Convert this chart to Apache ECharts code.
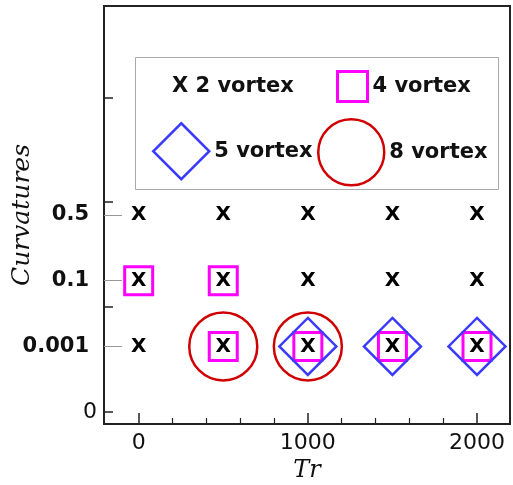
<!DOCTYPE html>
<html>
<head>
<meta charset="utf-8">
<script src="https://cdn.jsdelivr.net/npm/echarts@6/dist/echarts.min.js"></script>
<style>html,body{margin:0;padding:0;background:#fff}#c{width:513px;height:485px}</style>
</head>
<body>
<div id="c"></div>
<script>
// Curvature categories (plotted at index positions 0..3)
var curvLabels = ['0', '0.001', '0.1', '0.5'];
var trTicks = [0, 1000, 2000];
var trMinor = [200, 400, 600, 800, 1200, 1400, 1600, 1800];
var yPlainTicks = [0, 1.6, 3.2, 4.78];

// [Tr, curvature label]
var vortex2 = [[0,'0.5'],[500,'0.5'],[1000,'0.5'],[1500,'0.5'],[2000,'0.5'],
               [0,'0.1'],[500,'0.1'],[1000,'0.1'],[1500,'0.1'],[2000,'0.1'],
               [0,'0.001'],[500,'0.001'],[1000,'0.001'],[1500,'0.001'],[2000,'0.001']];
var vortex4 = [[0,'0.1'],[500,'0.1'],[500,'0.001'],[1000,'0.001'],[1500,'0.001'],[2000,'0.001']];
var vortex5 = [[1000,'0.001'],[1500,'0.001'],[2000,'0.001']];
var vortex8 = [[500,'0.001'],[1000,'0.001']];

function toXY(arr){ return arr.map(function(p){ return [p[0], curvLabels.indexOf(p[1])]; }); }

var chart = echarts.init(document.getElementById('c'));
var sansB = 'DejaVu Sans';
var legText = {fontFamily: sansB, fontWeight: 'bold', fontSize: 21, color: '#111'};
var option = {
  animation: false,
  grid: {left: 104, right: 3, top: 6, bottom: 61, show: true, borderColor: '#222', borderWidth: 2,
         backgroundColor: 'transparent', containLabel: false, outerBoundsMode: 'none'},
  xAxis: [{
    type: 'value', min: -205, max: 2195,
    name: 'Tr', nameLocation: 'middle', nameGap: 32,
    nameTextStyle: {fontFamily: 'DejaVu Serif', fontStyle: 'italic', fontSize: 24, color: '#111'},
    axisLine: {show: true, onZero: false, lineStyle: {color: '#222', width: 2}},
    axisTick: {show: true, inside: true, length: 11, customValues: trTicks, lineStyle: {color: '#222', width: 1.5}},
    axisLabel: {customValues: trTicks, fontFamily: sansB, fontSize: 22, color: '#111', margin: 8,
      formatter: function(v){ return String(v); }},
    splitLine: {show: false}
  }, {
    type: 'value', min: -205, max: 2195, position: 'bottom',
    axisLine: {show: false, onZero: false},
    axisTick: {show: true, inside: true, length: 6, customValues: trMinor, lineStyle: {color: '#222', width: 1.2}},
    axisLabel: {show: false},
    splitLine: {show: false}
  }],
  yAxis: [{
    type: 'value', min: -0.18, max: 6.18,
    name: 'Curvatures', nameLocation: 'middle', nameGap: 69,
    nameTextStyle: {fontFamily: 'DejaVu Serif', fontStyle: 'italic', fontSize: 25, color: '#111'},
    axisLine: {show: true, onZero: false, lineStyle: {color: '#222', width: 2}},
    axisTick: {show: true, inside: true, length: 9, customValues: yPlainTicks, lineStyle: {color: '#222', width: 1.5}},
    axisLabel: {customValues: [0], fontFamily: sansB, fontSize: 22, color: '#111', margin: 7},
    splitLine: {show: false}
  }, {
    type: 'value', min: -0.18, max: 6.18, position: 'left',
    axisLine: {show: false, onZero: false},
    axisTick: {show: true, inside: true, length: 18, customValues: [1, 2, 3], lineStyle: {color: '#999', width: 1}},
    axisLabel: {customValues: [1, 2, 3], fontFamily: sansB, fontWeight: 'bold', fontSize: 21, color: '#111', margin: 15,
      formatter: function(v){ return curvLabels[Math.round(v)]; }},
    splitLine: {show: false}
  }],
  graphic: [{
    type: 'rect', left: 135, top: 57, z: 0,
    shape: {width: 363, height: 132},
    style: {fill: '#fff', stroke: '#aaa', lineWidth: 1}
  }],
  legend: [
    {data: ['2 vortex'], left: 167, top: 76, padding: 0, itemWidth: 0, itemHeight: 0,
     formatter: 'X {name}', textStyle: legText, selectedMode: false},
    {data: ['4 vortex'], left: 336, top: 70, padding: 0, itemWidth: 30, itemHeight: 30,
     textStyle: Object.assign({padding: [6, 0, 0, 0]}, legText), selectedMode: false,
     itemStyle: {borderWidth: 3}},
    {data: ['5 vortex'], left: 152, top: 122, padding: 0, itemWidth: 56, itemHeight: 56,
     textStyle: Object.assign({padding: [3, 0, 0, 0]}, legText), selectedMode: false,
     itemStyle: {borderWidth: 2.5}},
    {data: ['8 vortex'], left: 317, top: 118, padding: 0, itemWidth: 66, itemHeight: 66,
     textStyle: Object.assign({padding: [14, 0, 0, 0]}, legText), selectedMode: false,
     itemStyle: {borderWidth: 2.5}}
  ],
  series: [{
    name: '8 vortex', type: 'scatter', symbol: 'circle', symbolSize: 68, z: 2,
    itemStyle: {color: 'rgba(0,0,0,0)', borderColor: '#d00000', borderWidth: 2.5, opacity: 1},
    data: toXY(vortex8)
  }, {
    name: '4 vortex', type: 'scatter', symbol: 'rect', symbolSize: 28, z: 3,
    itemStyle: {color: 'rgba(0,0,0,0)', borderColor: '#ff00ff', borderWidth: 3, opacity: 1},
    data: toXY(vortex4)
  }, {
    name: '5 vortex', type: 'scatter', symbol: 'diamond', symbolSize: 57, z: 4,
    itemStyle: {color: 'rgba(0,0,0,0)', borderColor: '#3b3bff', borderWidth: 2.5, opacity: 1},
    data: toXY(vortex5)
  }, {
    name: '2 vortex', type: 'scatter', symbol: 'circle', symbolSize: 1, z: 5,
    itemStyle: {color: 'rgba(0,0,0,0)', opacity: 1},
    label: {show: true, position: 'inside', formatter: 'X', fontFamily: sansB, fontWeight: 'bold', fontSize: 20, color: '#000'},
    data: toXY(vortex2)
  }]
};
chart.setOption(option);
</script>
</body>
</html>
